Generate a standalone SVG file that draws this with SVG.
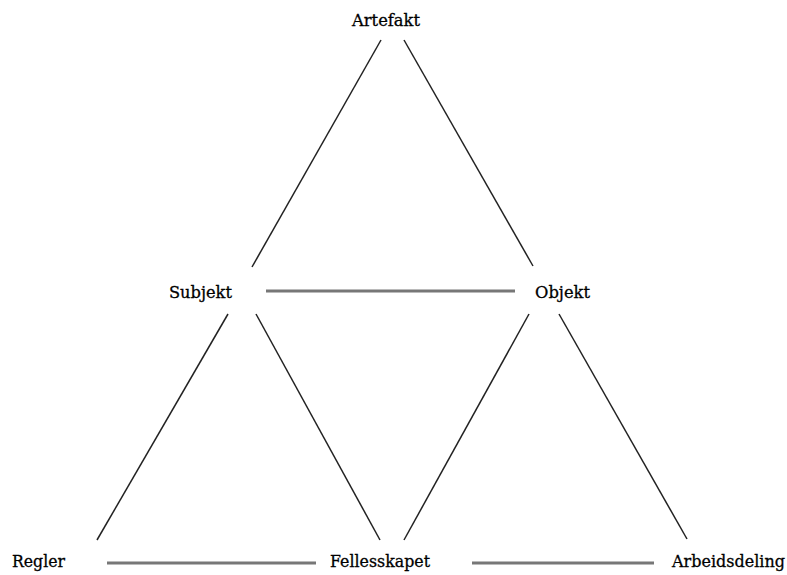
<svg xmlns="http://www.w3.org/2000/svg" width="787" height="575" viewBox="0 0 787 575">
<style>
.lbl{font-family:"DejaVu Serif","Liberation Serif",serif;font-size:16.5px;fill:#000;stroke:#000;stroke-width:0.3}
.d{stroke:#222;stroke-width:1.5;fill:none}
.h{stroke:#777;stroke-width:3;fill:none}
</style>
<rect width="787" height="575" fill="#fff"/>
<g id="connectors">
<line class="d" x1="381" y1="40" x2="252" y2="267"/>
<line class="d" x1="404" y1="40" x2="533" y2="266"/>
<line class="h" x1="266" y1="291" x2="515" y2="291"/>
<line class="d" x1="228" y1="314" x2="97" y2="540"/>
<line class="d" x1="256" y1="314" x2="380" y2="540"/>
<line class="d" x1="529" y1="314" x2="404" y2="540"/>
<line class="d" x1="559" y1="314" x2="687" y2="539"/>
<line class="h" x1="107" y1="563" x2="316" y2="563"/>
<line class="h" x1="472" y1="563" x2="654" y2="563"/>
</g>
<g id="artefakt"><text class="lbl" x="352" y="26" textLength="68" lengthAdjust="spacingAndGlyphs">Artefakt</text></g>
<g id="subjekt"><text class="lbl" x="169" y="298" textLength="63" lengthAdjust="spacingAndGlyphs">Subjekt</text></g>
<g id="objekt"><text class="lbl" x="535" y="298" textLength="55" lengthAdjust="spacingAndGlyphs">Objekt</text></g>
<g id="regler"><text class="lbl" x="12" y="567" textLength="53" lengthAdjust="spacingAndGlyphs">Regler</text></g>
<g id="fellesskapet"><text class="lbl" x="330" y="567" textLength="100" lengthAdjust="spacingAndGlyphs">Fellesskapet</text></g>
<g id="arbeidsdeling"><text class="lbl" x="672" y="567" textLength="113" lengthAdjust="spacingAndGlyphs">Arbeidsdeling</text></g>
</svg>
